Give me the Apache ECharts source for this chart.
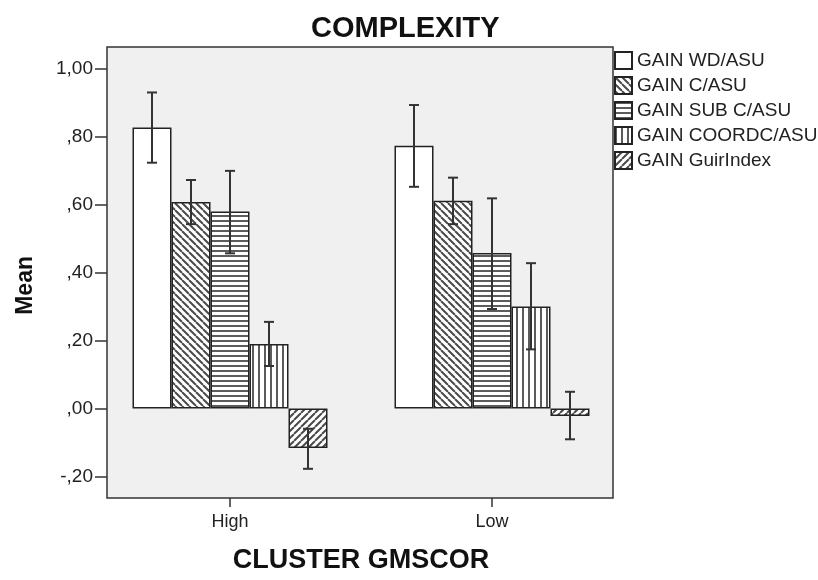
<!DOCTYPE html>
<html>
<head>
<meta charset="utf-8">
<script src="https://cdn.jsdelivr.net/npm/echarts@6/dist/echarts.min.js"></script>
<style>
html,body{margin:0;padding:0;background:#fff;}
#chart{width:818px;height:580px;}
</style>
</head>
<body>
<div id="chart"></div>
<script>
// ---- data ----
const categories = ['High', 'Low'];
const seriesNames = ['GAIN WD/ASU', 'GAIN C/ASU', 'GAIN SUB C/ASU', 'GAIN COORDC/ASU', 'GAIN GuirIndex'];
const meanWD = [0.828, 0.774];
const meanC = [0.608, 0.612];
const meanSUB = [0.580, 0.458];
const meanCOORD = [0.190, 0.300];
const meanGuir = [-0.117, -0.022];
const errLowWD = [0.724, 0.653], errHighWD = [0.931, 0.894];
const errLowC = [0.543, 0.543], errHighC = [0.673, 0.680];
const errLowSUB = [0.457, 0.293], errHighSUB = [0.700, 0.619];
const errLowCOORD = [0.125, 0.174], errHighCOORD = [0.255, 0.428];
const errLowGuir = [-0.178, -0.091], errHighGuir = [-0.060, 0.049];
const yTicks = [-0.2, 0, 0.2, 0.4, 0.6, 0.8, 1.0];
const yMin = -0.264, yMax = 1.065;

// ---- styling helpers ----
const BAR_W = 39;
const FONT = 'Liberation Sans, Arial, sans-serif';
function makePattern(kind) {
  const s = kind === 'h' ? 5 : (kind === 'v' ? 6 : 7);
  const c = document.createElement('canvas');
  c.width = s; c.height = s;
  const g = c.getContext('2d');
  g.fillStyle = '#ffffff';
  g.fillRect(0, 0, s, s);
  g.strokeStyle = '#4a4a4a';
  g.lineWidth = kind === 'back' || kind === 'fwd' ? 2 : 1.8;
  g.beginPath();
  if (kind === 'h') { g.moveTo(0, 1); g.lineTo(s, 1); }
  else if (kind === 'v') { g.moveTo(1, 0); g.lineTo(1, s); }
  else if (kind === 'back') { for (let k = -1; k <= 1; k++) { g.moveTo(k * s, 0); g.lineTo(k * s + s, s); } }
  else if (kind === 'fwd') { for (let k = -1; k <= 1; k++) { g.moveTo(k * s, s); g.lineTo(k * s + s, 0); } }
  g.stroke();
  return { image: c, repeat: 'repeat' };
}
const fills = ['#ffffff', makePattern('back'), makePattern('h'), makePattern('v'), makePattern('fwd')];
const means = [meanWD, meanC, meanSUB, meanCOORD, meanGuir];
const lows = [errLowWD, errLowC, errLowSUB, errLowCOORD, errLowGuir];
const highs = [errHighWD, errHighC, errHighSUB, errHighCOORD, errHighGuir];

function fmt(v) {
  const r = Math.round(v * 100) / 100;
  let s = Math.abs(r).toFixed(2);
  if (s.startsWith('0.')) s = s.slice(1);
  s = s.replace('.', ',');
  return (r < 0 ? '-' : '') + s;
}

const errData = [];
for (let i = 0; i < seriesNames.length; i++) {
  for (let j = 0; j < categories.length; j++) {
    errData.push([j, i, lows[i][j], highs[i][j]]);
  }
}

const barSeries = seriesNames.map((name, i) => ({
  name: name,
  type: 'bar',
  xAxisIndex: 1,
  yAxisIndex: 1,
  data: means[i],
  barWidth: BAR_W,
  barGap: '0%',
  itemStyle: { color: fills[i], borderColor: '#222', borderWidth: 1.5 },
  emphasis: { disabled: true },
  z: 2
}));

const errSeries = {
  type: 'custom',
  name: 'err',
  xAxisIndex: 1,
  yAxisIndex: 1,
  data: errData,
  encode: { x: 0, y: [2, 3] },
  z: 5,
  silent: true,
  renderItem: function (params, api) {
    const cat = api.value(0), idx = api.value(1);
    const lo = api.coord([cat, api.value(2)]);
    const hi = api.coord([cat, api.value(3)]);
    const x = lo[0] + (idx - (seriesNames.length - 1) / 2) * BAR_W;
    const cap = 5;
    const st = { stroke: '#333', lineWidth: 2, fill: null };
    return {
      type: 'group',
      children: [
        { type: 'line', shape: { x1: x, y1: hi[1], x2: x, y2: lo[1] }, style: st },
        { type: 'line', shape: { x1: x - cap, y1: hi[1], x2: x + cap, y2: hi[1] }, style: st },
        { type: 'line', shape: { x1: x - cap, y1: lo[1], x2: x + cap, y2: lo[1] }, style: st }
      ]
    };
  }
};

const chart = echarts.init(document.getElementById('chart'), null, { renderer: 'canvas' });
chart.setOption({
  animation: false,
  backgroundColor: '#ffffff',
  title: {
    text: 'COMPLEXITY',
    left: 306,
    top: 9,
    textStyle: { fontFamily: FONT, fontSize: 29, fontWeight: 'bold', color: '#111' }
  },
  legend: {
    orient: 'vertical',
    left: 614,
    top: 51,
    padding: 0,
    itemWidth: 17,
    itemHeight: 17,
    itemGap: 6,
    icon: 'rect',
    data: seriesNames,
    selectedMode: false,
    textStyle: { fontFamily: FONT, fontSize: 19, color: '#222' }
  },
  graphic: [{
    type: 'text',
    left: 14,
    top: 256,
    rotation: Math.PI / 2,
    style: { text: 'Mean', font: 'bold 23px ' + FONT, fill: '#111' }
  }],
  grid: [
    { left: 107, top: 47, width: 506, height: 451, show: true, backgroundColor: '#f0f0f0', borderColor: '#333', borderWidth: 1.5, outerBoundsMode: 'none', containLabel: false },
    { left: 99, top: 47, width: 524, height: 451, show: false, outerBoundsMode: 'none', containLabel: false }
  ],
  xAxis: [
    { type: 'category', gridIndex: 0, data: categories, show: false },
    {
      type: 'category', gridIndex: 1, data: categories,
      axisLine: { show: false, onZero: false },
      axisTick: { show: true, alignWithLabel: true, length: 9, lineStyle: { color: '#333', width: 1.5 } },
      axisLabel: { fontFamily: FONT, fontSize: 18, color: '#222', margin: 15 },
      name: 'CLUSTER GMSCOR',
      nameLocation: 'middle',
      nameGap: 49,
      nameTextStyle: { fontFamily: FONT, fontSize: 27, fontWeight: 'bold', color: '#111' }
    }
  ],
  yAxis: [
    {
      type: 'value', gridIndex: 0, min: yMin, max: yMax,
      axisLine: { show: false },
      splitLine: { show: false },
      axisTick: { show: true, length: 12, customValues: yTicks, lineStyle: { color: '#333', width: 1.5 } },
      axisLabel: { customValues: yTicks, formatter: fmt, fontFamily: FONT, fontSize: 19, color: '#222', margin: 14 }
    },
    { type: 'value', gridIndex: 1, min: yMin, max: yMax, show: false, splitLine: { show: false } }
  ],
  series: barSeries.concat([errSeries])
});
</script>
</body>
</html>
